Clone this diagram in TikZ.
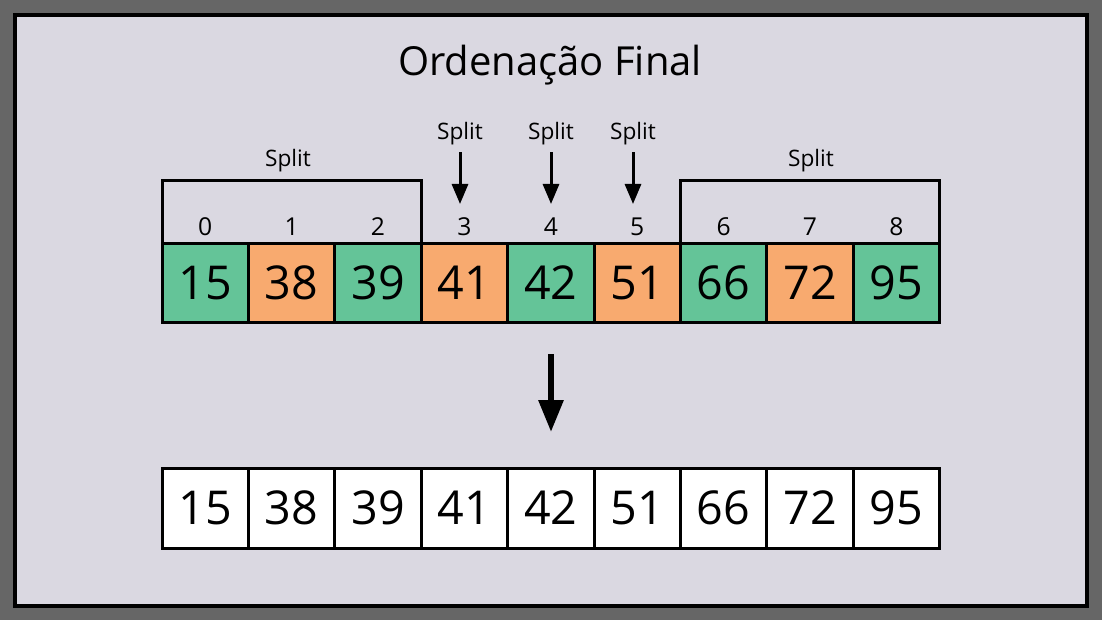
\documentclass[tikz,border=0pt]{standalone}
\usepackage{fontspec}
\setmainfont{Open Sans}
\usetikzlibrary{arrows.meta}
\definecolor{bgout}{HTML}{666666}
\definecolor{panel}{HTML}{DAD8E1}
\definecolor{cgreen}{HTML}{64C498}
\definecolor{corange}{HTML}{F8AA6F}
\tikzset{
  cell/.style={draw=black, line width=2.25pt, outer sep=0pt, minimum width=86.4*0.75pt, minimum height=78*0.75pt, inner sep=0pt, font=\fontsize{35}{37}\selectfont, anchor=north west},
  gcell/.style={cell, fill=cgreen},
  ocell/.style={cell, fill=corange},
  wcell/.style={cell, fill=white, minimum height=80*0.75pt},
  idx/.style={font=\fontsize{18.5}{20}\selectfont},
  splitlbl/.style={font=\fontsize{17}{19}\selectfont},
  bracket/.style={draw=black, line width=2.25pt},
  sarrow/.style={draw=black, line width=2.25pt, -{Triangle[length=15pt, width=12pt]}},
  barrow/.style={draw=black, line width=4.5pt, -{Triangle[length=24pt, width=18pt]}}
}
\begin{document}
\begin{tikzpicture}[x=0.75pt,y=-0.75pt]
\fill[bgout] (0,0) rectangle (1102,620);
\draw[fill=panel, line width=3pt] (15,15) rectangle (1087,606);
\node[font=\fontsize{30}{34}\selectfont] (title) at (550,65) {Ordenação Final};
% top row
\foreach \v/\s [count=\i from 0] in {15/gcell,38/ocell,39/gcell,41/ocell,42/gcell,51/ocell,66/gcell,72/ocell,95/gcell}{
  \node[\s] (t\i) at (162+\i*86.4,244) {\v};
  \node[idx] (i\i) at (205.2+\i*86.4,227) {\i};
}
% bottom row
\foreach \v [count=\i from 0] in {15,38,39,41,42,51,66,72,95}{
  \node[wcell] (b\i) at (162+\i*86.4,468) {\v};
}
% brackets
\coordinate (ytop) at (0,181);
\draw[bracket] (t0.north west) -- (t0.north west |- ytop) -- (t2.north east |- ytop) -- (t2.north east);
\draw[bracket] (t6.north west) -- (t6.north west |- ytop) -- (t8.north east |- ytop) -- (t8.north east);
\node[splitlbl] (sl) at (288,161) {Split};
\node[splitlbl] (sr) at (811,161) {Split};
% small split arrows
\node[splitlbl] (s3) at (460,134) {Split};
\node[splitlbl] (s4) at (551,134) {Split};
\node[splitlbl] (s5) at (633,134) {Split};
\coordinate (a3) at (460,204);
\coordinate (a4) at (551,204);
\coordinate (a5) at (633,204);
\draw[sarrow] (s3.south) ++(0,2) -- (a3);
\draw[sarrow] (s4.south) ++(0,2) -- (a4);
\draw[sarrow] (s5.south) ++(0,2) -- (a5);
% big arrow
\coordinate (ba1) at (551,354);
\coordinate (ba2) at (551,432);
\draw[barrow] (ba1) -- (ba2);
\end{tikzpicture}
\end{document}
